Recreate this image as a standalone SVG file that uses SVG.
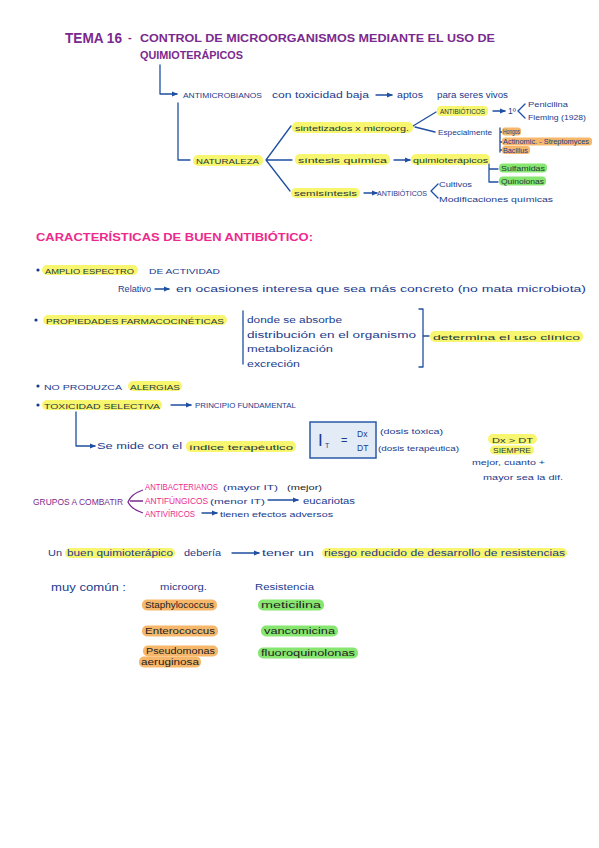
<svg xmlns="http://www.w3.org/2000/svg" width="599" height="848" viewBox="0 0 599 848">
<defs>
<marker id="ah" markerWidth="6" markerHeight="6" refX="5" refY="3" orient="auto" markerUnits="userSpaceOnUse"><path d="M0,0.5 L6,3 L0,5.5 Z" fill="#1f4fa0"/></marker>
</defs>
<style>
text{font-family:"Liberation Sans",Arial,sans-serif;}
.tt{fill:#7a2a8e;font-weight:bold;}
.b{fill:#1a3b8c;font-size:8.5px;}
.bc{fill:#1a3b8c;font-size:7.5px;}
.bs{fill:#1a3b8c;font-size:6.5px;}
.dk{fill:#1e3a3a;font-size:7.5px;}
.k{fill:#ec2a8e;font-size:8.5px;}
.hy{fill:#f8f56e;}
.ho{fill:#f7b76b;}
.hg{fill:#86e66f;}
.ln{stroke:#1f4fa0;stroke-width:1.3;fill:none;stroke-linecap:round;stroke-linejoin:round;}
.ar{marker-end:url(#ah);}
</style>
<rect width="599" height="848" fill="#ffffff"/>

<g id="title">
<text class="tt" x="65" y="43" font-size="14" textLength="57" lengthAdjust="spacingAndGlyphs">TEMA 16</text>
<text class="tt" x="128" y="41" font-size="11">-</text>
<text class="tt" x="140" y="42" font-size="10.5" textLength="355" lengthAdjust="spacingAndGlyphs">CONTROL DE MICROORGANISMOS MEDIANTE EL USO DE</text>
<text class="tt" x="140" y="59" font-size="10.5" textLength="103" lengthAdjust="spacingAndGlyphs">QUIMIOTERÁPICOS</text>
</g>

<g id="connectors">
<path class="ln ar" d="M160,65 V94 H177"/>
<path class="ln" d="M178,103 V160 H190"/>
<path class="ln ar" d="M376,95 H392"/>
<path class="ln" d="M266,160 L291,126 M266,160 H292 M266,160 L290,191"/>
<path class="ln" d="M413,126 L436,112 M415,127 L435,132"/>
<path class="ln ar" d="M394,160 H410"/>
<path class="ln ar" d="M364,193 H377"/>
<path class="ln" d="M438,184 L431,191 L438,198"/>
<path class="ln ar" d="M493,111 H505"/>
<path class="ln" d="M525,104 L518,111 L525,118"/>
<path class="ln" d="M500,128 V152 M500,132 H503 M500,142 H503 M500,150 H503"/>
<path class="ln" d="M489,164 V182 H498 M489,169 H498"/>
<path class="ln ar" d="M155,289 H169"/>
<path class="ln" d="M243,311 V364"/>
<path class="ln" d="M419,309 H423 V367 H419 M423,336 H429"/>
<path class="ln ar" d="M171,405 H191"/>
<path class="ln ar" d="M76,412 V446 H95"/>
<path class="ln" d="M356,441 H373"/>
<path d="M143,490 Q131,494 128,502 Q131,509 143,513 M130,501 H143" fill="none" stroke="#7a2a8e" stroke-width="1.3"/>
<path class="ln ar" d="M268,500 H298"/>
<path class="ln ar" d="M202,513 H217"/>
<path class="ln ar" d="M232,553 H259"/>
</g>

<g id="antimicrobianos">
<text class="bc" x="183" y="98" textLength="79" lengthAdjust="spacingAndGlyphs">ANTIMICROBIANOS</text>
<text class="b" x="272" y="98" textLength="97" lengthAdjust="spacingAndGlyphs">con toxicidad baja</text>
<text class="b" x="397" y="98" textLength="26" lengthAdjust="spacingAndGlyphs">aptos</text>
<text class="b" x="437" y="98" textLength="71" lengthAdjust="spacingAndGlyphs">para seres vivos</text>
</g>

<g id="naturaleza">
<rect class="hy" x="193" y="155" width="70" height="11" rx="5"/>
<text class="dk" x="196" y="163.5" textLength="63" lengthAdjust="spacingAndGlyphs">NATURALEZA</text>
</g>

<g id="sintetizados">
<rect class="hy" x="292" y="122" width="121" height="11" rx="5"/>
<text class="dk" x="295" y="130.5" textLength="114" lengthAdjust="spacingAndGlyphs" font-size="8.5">sintetizados x microorg.</text>
</g>

<g id="antibioticos1">
<rect class="hy" x="437" y="106" width="51" height="10" rx="4"/>
<text class="dk" x="440" y="114" font-size="6.5" textLength="45" lengthAdjust="spacingAndGlyphs">ANTIBIÓTICOS</text>
<text class="b" x="508" y="114">1º</text>
<text class="bs" x="528" y="107" textLength="40" lengthAdjust="spacingAndGlyphs">Penicilina</text>
<text class="bs" x="528" y="120" textLength="58" lengthAdjust="spacingAndGlyphs">Fleming (1928)</text>
</g>

<g id="especialmente">
<text class="bs" x="438" y="135" textLength="54" lengthAdjust="spacingAndGlyphs">Especialmente</text>
<rect class="ho" x="502" y="127.5" width="19" height="8" rx="3"/>
<text class="bs" x="503" y="134" font-size="5.5" textLength="17" lengthAdjust="spacingAndGlyphs">Hongos</text>
<rect class="ho" x="502" y="137.5" width="90" height="8" rx="3"/>
<text class="bs" x="503" y="144" font-size="5.5" textLength="86" lengthAdjust="spacingAndGlyphs">Actinomic. - Streptomyces</text>
<rect class="ho" x="502" y="146" width="28" height="8" rx="3"/>
<text class="bs" x="503" y="152.5" font-size="5.5" textLength="25" lengthAdjust="spacingAndGlyphs">Bacillus</text>
</g>

<g id="sintesis">
<rect class="hy" x="295" y="154" width="95" height="11" rx="5"/>
<text class="dk" x="298" y="162.5" font-size="8.5" textLength="89" lengthAdjust="spacingAndGlyphs">síntesis química</text>
</g>

<g id="quimioterapicos">
<rect class="hy" x="411" y="154" width="79" height="11" rx="5"/>
<text class="dk" x="413" y="162.5" font-size="8.5" textLength="75" lengthAdjust="spacingAndGlyphs">quimioterápicos</text>
<rect class="hg" x="499" y="163.5" width="48" height="9" rx="4"/>
<text class="dk" x="501" y="170.5" font-size="6.5" textLength="44" lengthAdjust="spacingAndGlyphs">Sulfamidas</text>
<rect class="hg" x="499" y="176.5" width="47" height="9" rx="4"/>
<text class="dk" x="501" y="183.5" font-size="6.5" textLength="43" lengthAdjust="spacingAndGlyphs">Quinolonas</text>
</g>

<g id="semisintesis">
<rect class="hy" x="291" y="188" width="69" height="10" rx="5"/>
<text class="dk" x="294" y="196" font-size="8" textLength="63" lengthAdjust="spacingAndGlyphs">semisíntesis</text>
<text class="bs" x="377" y="196" textLength="50" lengthAdjust="spacingAndGlyphs">ANTIBIÓTICOS</text>
<text class="bs" x="439" y="187" textLength="33" lengthAdjust="spacingAndGlyphs">Cultivos</text>
<text class="bs" x="439" y="202" textLength="114" lengthAdjust="spacingAndGlyphs">Modificaciones químicas</text>
</g>

<g id="caracteristicas">
<text x="36" y="241" font-size="11.5" fill="#ec2a8e" font-weight="bold" textLength="277" lengthAdjust="spacingAndGlyphs">CARACTERÍSTICAS DE BUEN ANTIBIÓTICO:</text>
</g>

<g id="amplio">
<circle cx="38" cy="270" r="1.6" fill="#1a3b8c"/>
<rect class="hy" x="42" y="265" width="96" height="10" rx="5"/>
<text class="dk" x="45" y="273.5" font-size="8" textLength="89" lengthAdjust="spacingAndGlyphs">AMPLIO ESPECTRO</text>
<text class="bc" x="149" y="273.5" textLength="71" lengthAdjust="spacingAndGlyphs">DE ACTIVIDAD</text>
<text class="b" x="118" y="292" textLength="33" lengthAdjust="spacingAndGlyphs">Relativo</text>
<text class="b" x="176" y="292" textLength="410" lengthAdjust="spacingAndGlyphs">en ocasiones interesa   que sea   más concreto (no mata microbiota)</text>
</g>

<g id="propiedades">
<circle cx="36" cy="320" r="1.6" fill="#1a3b8c"/>
<rect class="hy" x="43" y="315" width="184" height="10" rx="5"/>
<text class="dk" x="46" y="323.5" font-size="7.5" textLength="178" lengthAdjust="spacingAndGlyphs">PROPIEDADES   FARMACOCINÉTICAS</text>
<text class="b" x="247" y="323" textLength="95" lengthAdjust="spacingAndGlyphs">donde se absorbe</text>
<text class="b" x="247" y="338" textLength="169" lengthAdjust="spacingAndGlyphs">distribución en el organismo</text>
<text class="b" x="247" y="352" textLength="86" lengthAdjust="spacingAndGlyphs">metabolización</text>
<text class="b" x="247" y="367" textLength="53" lengthAdjust="spacingAndGlyphs">excreción</text>
<rect class="hy" x="430" y="331" width="153" height="11" rx="5"/>
<text class="dk" x="433" y="339.5" font-size="8.5" textLength="147" lengthAdjust="spacingAndGlyphs">determina el uso clínico</text>
</g>

<g id="alergias">
<circle cx="38" cy="386" r="1.6" fill="#1a3b8c"/>
<text class="bc" x="44" y="389.5" textLength="78" lengthAdjust="spacingAndGlyphs">NO PRODUZCA</text>
<rect class="hy" x="128" y="381" width="54" height="10" rx="5"/>
<text class="dk" x="130" y="389.5" font-size="7.5" textLength="50" lengthAdjust="spacingAndGlyphs">ALERGIAS</text>
</g>

<g id="toxicidad">
<circle cx="38" cy="405" r="1.6" fill="#1a3b8c"/>
<rect class="hy" x="42" y="400" width="120" height="10" rx="5"/>
<text class="dk" x="44" y="408.5" font-size="8" textLength="116" lengthAdjust="spacingAndGlyphs">TOXICIDAD SELECTIVA</text>
<text class="bs" x="195" y="408" textLength="101" lengthAdjust="spacingAndGlyphs">PRINCIPIO FUNDAMENTAL</text>
<text class="b" x="97" y="449" textLength="85" lengthAdjust="spacingAndGlyphs">Se mide con el</text>
<rect class="hy" x="186" y="441" width="110" height="11" rx="5"/>
<text class="dk" x="189" y="449.5" font-size="8.5" textLength="104" lengthAdjust="spacingAndGlyphs">índice terapéutico</text>
</g>

<g id="formula">
<rect x="310" y="422" width="66" height="36" fill="#e3ebf7" stroke="#2a5aa8" stroke-width="1.5"/>
<text x="318" y="446" font-size="17" fill="#1a3b8c">I</text>
<text x="325" y="448" font-size="7" fill="#1a3b8c">T</text>
<text x="341" y="444" font-size="11" fill="#1a3b8c">=</text>
<text x="357" y="437" font-size="8.5" fill="#1a3b8c">Dx</text>
<text x="357" y="451" font-size="8.5" fill="#1a3b8c">DT</text>
<text class="bs" x="380" y="434" textLength="63" lengthAdjust="spacingAndGlyphs">(dosis tóxica)</text>
<text class="bs" x="378" y="451" textLength="81" lengthAdjust="spacingAndGlyphs">(dosis terapéutica)</text>
</g>

<g id="siempre">
<rect class="hy" x="488" y="434" width="49" height="10" rx="5"/>
<text class="dk" x="492" y="442.5" font-size="8" textLength="41" lengthAdjust="spacingAndGlyphs">Dx &gt; DT</text>
<rect class="hy" x="490" y="445.5" width="44" height="9" rx="4.5"/>
<text class="dk" x="493" y="453" font-size="7" textLength="38" lengthAdjust="spacingAndGlyphs">SIEMPRE</text>
<text class="bs" x="472" y="465" font-size="7" textLength="73" lengthAdjust="spacingAndGlyphs">mejor, cuanto +</text>
<text class="bs" x="483" y="480" font-size="7" textLength="80" lengthAdjust="spacingAndGlyphs">mayor sea la dif.</text>
</g>

<g id="grupos">
<text x="33" y="504.5" font-size="8.5" fill="#7a2a8e" textLength="90" lengthAdjust="spacingAndGlyphs">GRUPOS A COMBATIR</text>
<text class="k" x="145" y="490" font-size="7.5" textLength="73" lengthAdjust="spacingAndGlyphs">ANTIBACTERIANOS</text>
<text class="bc" x="223" y="490" textLength="55" lengthAdjust="spacingAndGlyphs">(mayor IT)</text>
<text x="287" y="490" font-size="7.5" fill="#222" textLength="35" lengthAdjust="spacingAndGlyphs">(mejor)</text>
<text class="k" x="145" y="503.5" font-size="7.5" textLength="63" lengthAdjust="spacingAndGlyphs">ANTIFÚNGICOS</text>
<text class="bs" x="210" y="503.5" textLength="55" lengthAdjust="spacingAndGlyphs">(menor IT)</text>
<text class="b" x="303" y="503.5" textLength="52" lengthAdjust="spacingAndGlyphs">eucariotas</text>
<text class="k" x="145" y="516.5" font-size="7.5" textLength="50" lengthAdjust="spacingAndGlyphs">ANTIVÍRICOS</text>
<text class="bc" x="220" y="516.5" textLength="113" lengthAdjust="spacingAndGlyphs">tienen efectos adversos</text>
</g>

<g id="buen-quimioterapico">
<text class="b" x="48" y="556" textLength="14" lengthAdjust="spacingAndGlyphs">Un</text>
<rect class="hy" x="65" y="548" width="110" height="10" rx="5"/>
<text class="b" x="67" y="556" textLength="106" lengthAdjust="spacingAndGlyphs">buen quimioterápico</text>
<text class="b" x="184" y="556" textLength="37" lengthAdjust="spacingAndGlyphs">debería</text>
<text class="b" x="262" y="556" textLength="52" lengthAdjust="spacingAndGlyphs">tener un</text>
<rect class="hy" x="322" y="548" width="245" height="10" rx="5"/>
<text class="b" x="324" y="556" textLength="241" lengthAdjust="spacingAndGlyphs">riesgo reducido de desarrollo de resistencias</text>
</g>

<g id="muy-comun">
<text x="51" y="591" font-size="11.5" fill="#1a3b8c" textLength="75" lengthAdjust="spacingAndGlyphs">muy común :</text>
<text class="b" x="160" y="590" font-size="9" textLength="47" lengthAdjust="spacingAndGlyphs">microorg.</text>
<text class="b" x="255" y="590" font-size="9" textLength="59" lengthAdjust="spacingAndGlyphs">Resistencia</text>
</g>

<g id="staphylococcus">
<rect class="ho" x="142" y="599.5" width="75" height="11" rx="5"/>
<text x="145" y="608" font-size="8.5" fill="#222" textLength="69" lengthAdjust="spacingAndGlyphs">Staphylococcus</text>
<rect class="hg" x="258" y="599.5" width="66" height="11" rx="5"/>
<text x="261" y="608" font-size="8.5" fill="#222" textLength="60" lengthAdjust="spacingAndGlyphs">meticilina</text>
</g>

<g id="enterococcus">
<rect class="ho" x="142" y="625.5" width="76" height="11" rx="5"/>
<text x="145" y="634" font-size="8.5" fill="#222" textLength="70" lengthAdjust="spacingAndGlyphs">Enterococcus</text>
<rect class="hg" x="261" y="625.5" width="77" height="11" rx="5"/>
<text x="264" y="634" font-size="8.5" fill="#222" textLength="71" lengthAdjust="spacingAndGlyphs">vancomicina</text>
</g>

<g id="pseudomonas">
<rect class="ho" x="143" y="645.5" width="75" height="11" rx="5"/>
<text x="146" y="654" font-size="8.5" fill="#222" textLength="69" lengthAdjust="spacingAndGlyphs">Pseudomonas</text>
<rect class="ho" x="139" y="656.5" width="62" height="11" rx="5"/>
<text x="141" y="665" font-size="8.5" fill="#222" textLength="58" lengthAdjust="spacingAndGlyphs">aeruginosa</text>
<rect class="hg" x="258" y="647.5" width="100" height="11" rx="5"/>
<text x="261" y="656" font-size="8.5" fill="#222" textLength="94" lengthAdjust="spacingAndGlyphs">fluoroquinolonas</text>
</g>
</svg>
